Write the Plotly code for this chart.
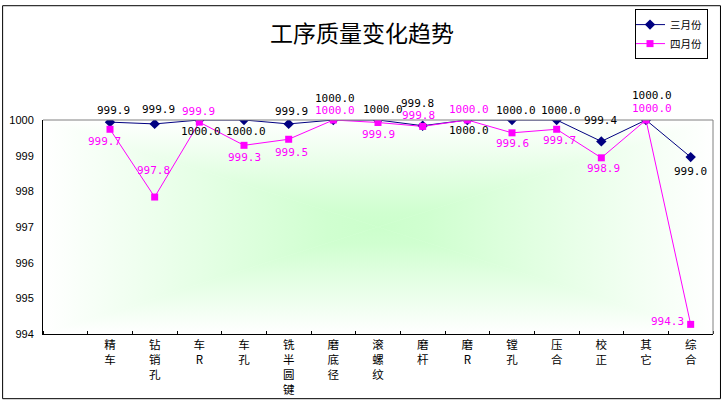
import base64
import plotly.graph_objects as go

categories = ["精车", "钻销孔", "车R", "车孔", "铣半圆键", "磨底径", "滚螺纹",
              "磨杆", "磨R", "镗孔", "压合", "校正", "其它", "综合"]
march = [999.94, 999.89, 1000.0, 1000.0, 999.89, 1000.0, 1000.0,
         999.84, 1000.0, 1000.0, 1000.0, 999.40, 1000.0, 998.96]
april = [999.74, 997.84, 999.94, 999.29, 999.46, 1000.0, 999.93,
         999.82, 1000.0, 999.64, 999.74, 998.94, 1000.0, 994.27]
series_names = ["三月份", "四月份"]
y_ticks = [994, 995, 996, 997, 998, 999, 1000]

# label offsets (pixels) for data labels, styling only
march_dx = [3, 4, 2, 2, 3, 2, 5, -5, 2, 4, 4, -1, 6, 0]
march_dy = [12, 14, -11, -11, 12, 22, 11, 22, -10, 10, 10, 21, 25, -14]
april_dx = [-6, -1, -1, 0, 3, 2, 0, -4, 2, 0, 3, 2, 6, -23]
april_dy = [-12, 27, 11, -12, -13, 10, -12, 11, 11, -11, -11, -11, 12, 3]

W, H = 722, 406
L, R, T, B = 41, 9, 118, 68
PW, PH = W - L - R, H - T - B

xs = list(range(1, len(categories) + 1))
ticktext = ["<br>".join(list(c)) for c in categories]

fig = go.Figure()
fig.add_trace(go.Scatter(
    x=xs, y=march, name=series_names[0], mode="lines+markers",
    line=dict(color="#000080", width=1),
    marker=dict(symbol="diamond", size=8, color="#000080"),
))
fig.add_trace(go.Scatter(
    x=xs, y=april, name=series_names[1], mode="lines+markers",
    line=dict(color="#FF00FF", width=1),
    marker=dict(symbol="square", size=7, color="#FF00FF"),
))

annotations = []
for vals, dxs, dys, col in [(march, march_dx, march_dy, "#000000"),
                            (april, april_dx, april_dy, "#FF00FF")]:
    for x, v, dx, dy in zip(xs, vals, dxs, dys):
        annotations.append(dict(
            x=x, y=v, xref="x", yref="y", text=f"{v:.1f}", showarrow=False,
            xshift=dx, yshift=dy,
            font=dict(family="DejaVu Sans Mono", size=11, color=col),
        ))

# rectangular "from center" gradient background as SVG
svg = f'''<svg xmlns="http://www.w3.org/2000/svg" width="{PW}" height="{PH}" viewBox="0 0 {PW} {PH}" preserveAspectRatio="none">
<defs>
<linearGradient id="t" x1="0" y1="0" x2="0" y2="1"><stop offset="0" stop-color="#ffffff"/><stop offset="0.85" stop-color="#d0ffd0"/><stop offset="1" stop-color="#ccffcc"/></linearGradient>
<linearGradient id="b" x1="0" y1="1" x2="0" y2="0"><stop offset="0" stop-color="#ffffff"/><stop offset="0.85" stop-color="#d0ffd0"/><stop offset="1" stop-color="#ccffcc"/></linearGradient>
<linearGradient id="l" x1="0" y1="0" x2="1" y2="0"><stop offset="0" stop-color="#ffffff"/><stop offset="0.85" stop-color="#d0ffd0"/><stop offset="1" stop-color="#ccffcc"/></linearGradient>
<linearGradient id="r" x1="1" y1="0" x2="0" y2="0"><stop offset="0" stop-color="#ffffff"/><stop offset="0.85" stop-color="#d0ffd0"/><stop offset="1" stop-color="#ccffcc"/></linearGradient>
</defs>
<polygon points="0,0 {PW},0 {PW/2},{PH/2}" fill="url(#t)" stroke="url(#t)" stroke-width="0.6"/>
<polygon points="0,{PH} {PW},{PH} {PW/2},{PH/2}" fill="url(#b)" stroke="url(#b)" stroke-width="0.6"/>
<polygon points="0,0 0,{PH} {PW/2},{PH/2}" fill="url(#l)" stroke="url(#l)" stroke-width="0.6"/>
<polygon points="{PW},0 {PW},{PH} {PW/2},{PH/2}" fill="url(#r)" stroke="url(#r)" stroke-width="0.6"/>
</svg>'''
src = "data:image/svg+xml;base64," + base64.b64encode(svg.encode("utf-8")).decode()

def px_x(p):
    return (p - L) / PW

def px_y(p):
    return (H - B - p) / PH

shapes = [
    dict(type="line", xref="paper", yref="paper", x0=0, x1=1, y0=1, y1=1,
         line=dict(color="#808080", width=1)),
    dict(type="line", xref="paper", yref="paper", x0=1, x1=1, y0=0, y1=1,
         line=dict(color="#808080", width=1)),
    dict(type="rect", xref="paper", yref="paper",
         x0=px_x(0.5), x1=px_x(W - 1.5), y0=px_y(H - 1.5), y1=px_y(0.5),
         line=dict(color="#000000", width=1), layer="above"),
]

fig.update_layout(
    width=W, height=H,
    margin=dict(l=L, r=R, t=T, b=B, pad=0),
    paper_bgcolor="#ffffff", plot_bgcolor="#ffffff",
    title=dict(text="工序质量变化趋势", x=362 / W, xanchor="center",
               y=1 - 34 / H, yanchor="middle", yref="container",
               font=dict(family="Noto Sans CJK SC", size=23, color="#000000")),
    showlegend=True,
    legend=dict(x=px_x(708), xanchor="right", y=px_y(4), yanchor="top",
                bordercolor="#000000", borderwidth=1, bgcolor="#ffffff",
                font=dict(family="Noto Sans CJK SC", size=10.5, color="#000000"),
                itemwidth=30, tracegroupgap=0, indentation=-6),
    xaxis=dict(range=[-0.5, len(categories) + 0.5], tickmode="array",
               tickvals=xs, ticktext=ticktext, ticks="", showgrid=False,
               zeroline=False, showline=True, linecolor="#000000", linewidth=1,
               tickfont=dict(family="Noto Sans CJK SC", size=11.5, color="#000000"),
               minor=dict(tickmode="linear", tick0=0.5, dtick=1, ticks="inside",
                          ticklen=3, tickcolor="#000000", tickwidth=1, showgrid=False)),
    yaxis=dict(range=[994, 1000], tickmode="array", tickvals=y_ticks,
               ticks="", showgrid=False, zeroline=False, showline=True,
               linecolor="#000000", linewidth=1, ticklabelstandoff=6,
               tickfont=dict(family="Liberation Sans", size=11, color="#000000")),
    images=[dict(source=src, xref="paper", yref="paper", x=0, y=1,
                 sizex=1, sizey=1, sizing="stretch", layer="below",
                 xanchor="left", yanchor="top")],
    shapes=shapes,
    annotations=annotations,
)

post = (
    "document.documentElement.style.overflow='hidden';"
    "document.body.style.margin='0';"
    "document.body.style.overflow='hidden';"
    "var gd=document.getElementById('{plot_id}');"
    "var vh=window.innerHeight;"
    f"if(vh && Math.abs(vh-{H})>1){{var k=vh/{H};"
    f"Plotly.relayout(gd,{{height:vh,'margin.t':{T}*k,'margin.b':{B}*k}});}}"
)

fig.write_html(
    "out.html",
    config={"displayModeBar": False, "staticPlot": True},
    post_script=post,
)
